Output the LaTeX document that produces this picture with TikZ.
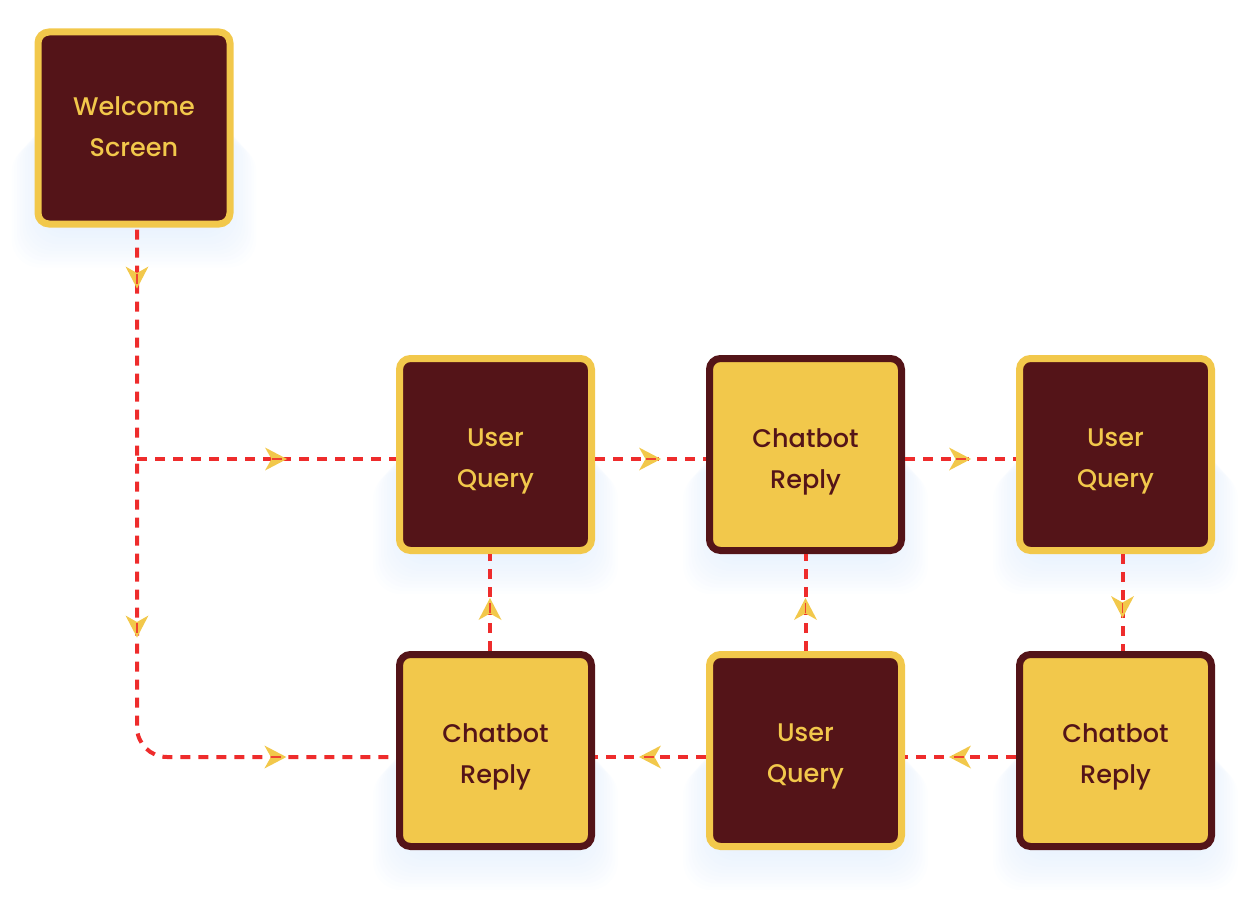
\documentclass[tikz,border=0pt]{standalone}
\usepackage{fontspec}
\setmainfont{Poppins}[UprightFont={Poppins Medium}]
\usetikzlibrary{calc,decorations.markings}
\definecolor{maroon}{HTML}{541418}
\definecolor{gold}{HTML}{F2C84B}
\definecolor{flowred}{HTML}{EE2C2C}
\definecolor{glow}{HTML}{D4E6FC}
\tikzset{
  box/.style={rectangle, rounded corners=11pt, minimum width=192pt, minimum height=192pt,
    line width=7pt, inner sep=0pt},
  darkbox/.style={box, fill=maroon, draw=gold},
  lightbox/.style={box, fill=gold, draw=maroon},
  lab/.style={align=center, inner sep=0pt, font=\fontsize{25.5}{41}\selectfont, yshift=-7pt},
  darklab/.style={lab, text=gold},
  lightlab/.style={lab, text=maroon},
  flow/.style={draw=flowred, line width=4pt, dash pattern=on 10pt off 8pt},
  tipat/.style={postaction={decorate, decoration={markings,
      mark=at position #1 with {\fill[gold, sharp corners] (0,0) -- (-22pt,11.5pt) -- (-15.5pt,0pt) -- (-22pt,-11.5pt) -- cycle;
        \draw[flowred!85!gold, line width=1.2pt, solid] (-15pt,0) -- (-5pt,0);}}}},
}
\begin{document}
\begin{tikzpicture}[x=1pt,y=1pt]
\useasboundingbox (0,0) rectangle (1249,-920);
% soft glow under boxes
\foreach \cx/\cy in {134/-128,495.5/-454.5,805.5/-454.5,1115.5/-454.5,495.5/-750.5,805.5/-750.5,1115.5/-750.5}{
  \foreach \s in {0,3,...,36}{
    \fill[glow, opacity=0.05, rounded corners=28pt] (\cx-90-\s*0.9,\cy+20-\s) rectangle (\cx+90+\s*0.9,\cy-100-\s*1.1);
  }
}
\node[darkbox, label={[darklab, yshift=8pt]center:Welcome\\Screen}] (W) at (134,-128) {};
\node[darkbox, label={[darklab]center:User\\Query}] (UQ1) at (495.5,-454.5) {};
\node[lightbox, label={[lightlab]center:Chatbot\\Reply}] (CR1) at (805.5,-454.5) {};
\node[darkbox, label={[darklab]center:User\\Query}] (UQ2) at (1115.5,-454.5) {};
\node[lightbox, label={[lightlab, yshift=1pt]center:Chatbot\\Reply}] (CR2) at (1115.5,-750.5) {};
\node[darkbox, label={[darklab, yshift=1pt]center:User\\Query}] (UQ3) at (805.5,-750.5) {};
\node[lightbox, label={[lightlab, yshift=1pt]center:Chatbot\\Reply}] (CR3) at (495.5,-750.5) {};
% helper coordinates
\coordinate (Ws) at ($(W.south)+(3,-2)$);
\coordinate (UQ1w) at ($(UQ1.west)+(0,-4.5)$);
\coordinate (J) at (Ws |- UQ1w);
\coordinate (CR3w) at ($(CR3.west)+(0,-6.5)$);
% connectors
\draw[flow, rounded corners=30pt, tipat=59pt, tipat=408pt, tipat=664pt] (Ws) |- (CR3w);
\draw[flow, tipat=150pt] (J) -- (UQ1w);
\draw[flow, tipat=66pt] ($(UQ1.east)+(0,-4.5)$) -- ($(CR1.west)+(0,-4.5)$);
\draw[flow, tipat=66pt] ($(CR1.east)+(0,-4.5)$) -- ($(UQ2.west)+(0,-4.5)$);
\draw[flow, tipat=64pt] ($(UQ2.south)+(7,0)$) -- ($(CR2.north)+(7,0)$);
\draw[flow, tipat=67pt] ($(CR2.west)+(0,-6.5)$) -- ($(UQ3.east)+(0,-6.5)$);
\draw[flow, tipat=67pt] ($(UQ3.west)+(0,-6.5)$) -- ($(CR3.east)+(0,-6.5)$);
\draw[flow, tipat=53pt] (UQ3.north) -- (CR1.south);
\draw[flow, tipat=53pt] ($(CR3.north)+(-5.5,0)$) -- ($(UQ1.south)+(-5.5,0)$);
\end{tikzpicture}
\end{document}
